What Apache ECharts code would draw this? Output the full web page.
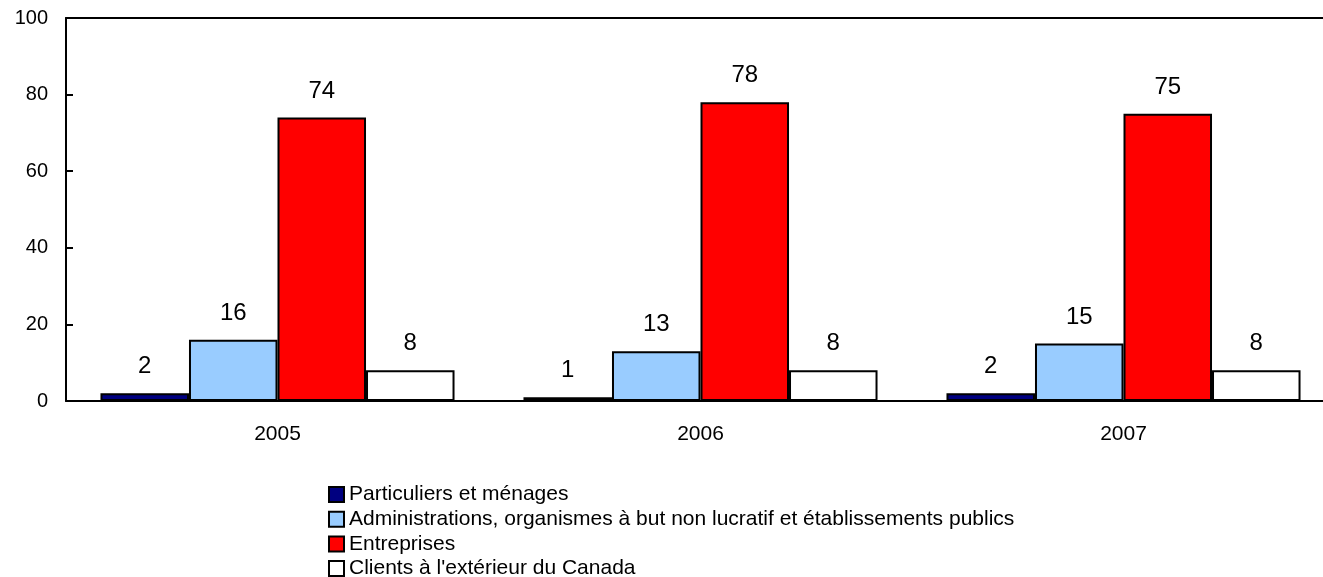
<!DOCTYPE html>
<html>
<head>
<meta charset="utf-8">
<script src="https://cdn.jsdelivr.net/npm/echarts@6/dist/echarts.min.js"></script>
<style>
  html, body { margin: 0; padding: 0; background: #fff; overflow: hidden; }
  /* the plot runs slightly past the right edge of the window */
  #chart { width: 1335px; height: 577px; }
</style>
</head>
<body>
<div id="chart"></div>
<script>
// Répartition des revenus selon le type de client (%)
const years = ['2005', '2006', '2007'];
const particuliers = [2, 1, 2];
const administrations = [16, 13, 15];
const entreprises = [74, 78, 75];
const clientsExterieur = [8, 8, 8];
const yTicks = [0, 20, 40, 60, 80, 100];

const seriesNames = [
  'Particuliers et ménages',
  'Administrations, organismes à but non lucratif et établissements publics',
  'Entreprises',
  "Clients à l'extérieur du Canada"
];
const seriesData = [particuliers, administrations, entreprises, clientsExterieur];
const seriesColors = ['#000080', '#99CCFF', '#FF0000', '#FFFFFF'];

const FONT = '"Liberation Sans", Arial, Helvetica, sans-serif';

const chart = echarts.init(document.getElementById('chart'));
chart.setOption({
  animation: false,
  textStyle: { fontFamily: FONT, color: '#000' },
  grid: { left: 66, right: 0, top: 18, height: 383, containLabel: false },
  xAxis: [
    {
      type: 'category',
      data: years,
      axisLine: { lineStyle: { color: '#000', width: 2 } },
      axisTick: { show: false },
      axisLabel: { color: '#000', fontSize: 21, fontFamily: FONT, margin: 23 }
    },
    {
      type: 'category',
      data: years,
      position: 'top',
      axisLine: { show: true, lineStyle: { color: '#000', width: 2 } },
      axisTick: { show: false },
      axisLabel: { show: false }
    }
  ],
  yAxis: {
    type: 'value',
    min: yTicks[0],
    max: yTicks[yTicks.length - 1],
    interval: 20,
    axisLine: { show: true, lineStyle: { color: '#000', width: 2 } },
    axisTick: { show: true, inside: true, length: 7, lineStyle: { color: '#000', width: 2 } },
    axisLabel: { color: '#000', fontSize: 20, fontFamily: FONT, margin: 18 },
    splitLine: { show: false }
  },
  legend: {
    orient: 'vertical',
    left: 328,
    top: 484,
    height: 140,
    padding: 0,
    itemWidth: 15,
    itemHeight: 15,
    itemGap: 3.7,
    icon: 'rect',
    textStyle: { fontSize: 21, lineHeight: 21, fontFamily: FONT, color: '#000' },
    data: seriesNames
  },
  series: seriesNames.map((name, i) => ({
    name: name,
    type: 'bar',
    xAxisIndex: 0,
    data: seriesData[i],
    barGap: '0%',
    barCategoryGap: '16.3%',
    itemStyle: { color: seriesColors[i], borderColor: '#000', borderWidth: 2 },
    label: {
      show: true,
      position: 'top',
      distance: 14.5,
      fontSize: 24,
      fontFamily: FONT,
      color: '#000'
    }
  }))
});
</script>
</body>
</html>
